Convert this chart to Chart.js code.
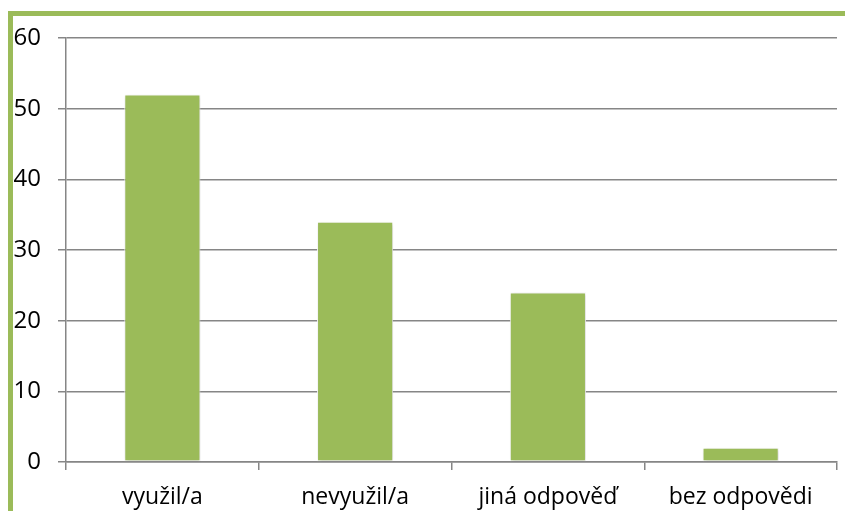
<!DOCTYPE html>
<html>
<head>
<meta charset="utf-8">
<script src="https://cdn.jsdelivr.net/npm/chart.js@4.4.1/dist/chart.umd.min.js"></script>
<style>
  html, body { margin: 0; padding: 0; background: #fff; }
  #wrap { position: relative; width: 845px; height: 511px; overflow: hidden; }
  #frame { position: absolute; left: 8px; top: 11px; width: 845px; height: 520px;
           border-top: 5px solid #9BBB59; border-left: 5px solid #9BBB59; box-sizing: border-box; }
  #c { position: absolute; left: 0; top: 0; }
</style>
</head>
<body>
<div id="wrap">
  <div id="frame"></div>
  <canvas id="c" width="845" height="511"></canvas>
</div>
<script>
const categories = ["využil/a", "nevyužil/a", "jiná odpověď", "bez odpovědi"];
const values = [52, 34, 24, 2];
const yTicks = [0, 10, 20, 30, 40, 50, 60];

const barColor = "#9BBB59";
const gridColor = "#868686";

const shadowPlugin = {
  id: "barShadow",
  beforeDatasetsDraw(chart) {
    const ctx = chart.ctx;
    ctx.save();
    ctx.shadowColor = "rgba(0,0,0,0.18)";
    ctx.shadowBlur = 4;
    ctx.shadowOffsetX = 1;
    ctx.shadowOffsetY = 1;
  },
  afterDatasetsDraw(chart) {
    chart.ctx.restore();
  }
};

new Chart(document.getElementById("c"), {
  type: "bar",
  data: {
    labels: categories,
    datasets: [{
      data: values,
      backgroundColor: barColor,
      borderColor: "#ffffff",
      borderWidth: 1,
      borderSkipped: false,
      categoryPercentage: 1.0,
      barPercentage: 0.395
    }]
  },
  options: {
    responsive: false,
    animation: false,
    devicePixelRatio: 1,
    layout: { padding: { top: 38, right: 8, bottom: 0, left: 0 } },
    plugins: { legend: { display: false }, tooltip: { enabled: false } },
    scales: {
      x: {
        offset: true,
        grid: { display: true, drawOnChartArea: false, drawTicks: true, tickLength: 8,
                color: gridColor, lineWidth: 1.5, offset: true },
        border: { display: true, color: gridColor, width: 1.5 },
        ticks: { color: "#000", font: { family: "Open Sans", size: 23 }, padding: 14, maxRotation: 0 },
        afterFit(scale) { scale.height = 49; }
      },
      y: {
        min: 0, max: 60,
        afterBuildTicks(scale) { scale.ticks = yTicks.map(v => ({ value: v })); },
        grid: { color: gridColor, lineWidth: 1.5, drawTicks: true, tickLength: 8 },
        border: { display: true, color: gridColor, width: 1.5 },
        ticks: { color: "#000", font: { family: "Open Sans", size: 24 }, padding: 17 },
        afterFit(scale) { scale.width = 66; }
      }
    }
  },
  plugins: [shadowPlugin]
});
</script>
</body>
</html>
